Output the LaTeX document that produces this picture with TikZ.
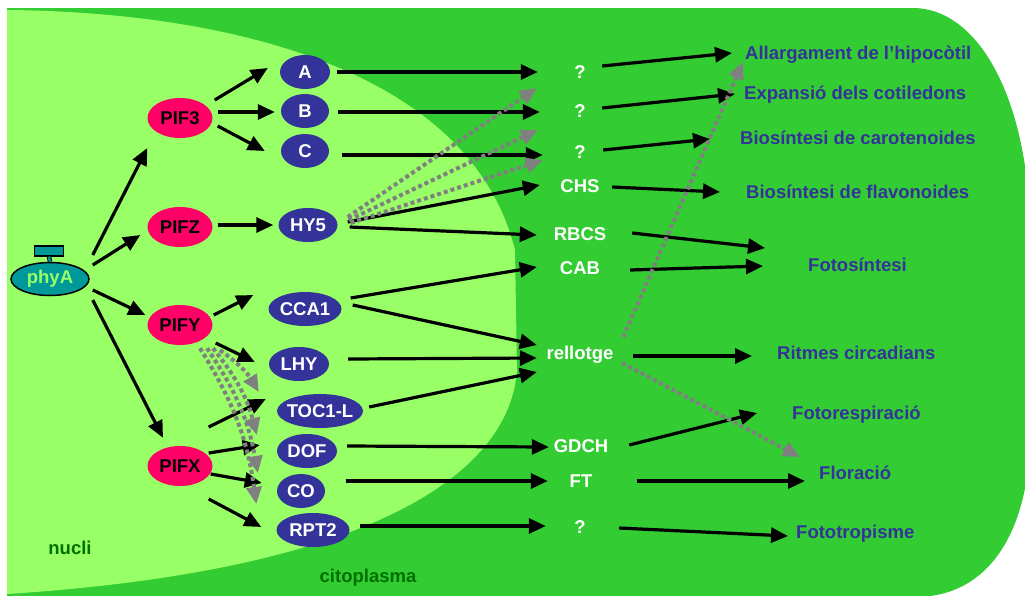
\documentclass[tikz,border=0pt]{standalone}
\usepackage{fontspec}
\setmainfont{Liberation Sans}
\usetikzlibrary{shapes.geometric,arrows.meta}
\definecolor{cyto}{RGB}{51,204,51}
\definecolor{nuc}{RGB}{153,255,102}
\definecolor{pif}{RGB}{255,0,102}
\definecolor{gene}{RGB}{51,51,153}
\definecolor{phyteal}{RGB}{0,153,153}
\definecolor{dkgreen}{RGB}{0,112,0}
\definecolor{dots}{RGB}{128,128,128}

\begin{document}
\begin{tikzpicture}[x=1pt,y=-1pt,
  font=\fontsize{18.5}{20}\selectfont\bfseries,
  pifnode/.style={ellipse,fill=pif,minimum width=65pt,minimum height=40pt,inner sep=0pt,text height=13pt,text depth=0pt},
  genenode/.style={ellipse,fill=gene,text=white,minimum height=34pt,inner sep=0pt,inner xsep=-3pt,text height=13pt,text depth=0pt},
  target/.style={text=white,minimum width=90pt,inner sep=0pt,text height=13pt,text depth=0pt},
  effect/.style={text=gene,anchor=west,inner sep=0pt,text height=13pt,text depth=0pt},
  arr/.style={-{Triangle[length=17pt,width=15pt]},line width=3.2pt},
  dotarr/.style={-{Triangle[length=17pt,width=15pt]},draw=dots,line width=4pt,dash pattern=on 4pt off 3pt}]
  \useasboundingbox (0,0) rectangle (1025,595);
  \fill[cyto] (7,8) -- (913,8) .. controls (975,8) and (1025,90) .. (1030,220) -- (1030,440)
    .. controls (1028,530) and (990,597) .. (915,597) -- (7,597) -- cycle;
  \fill[nuc] (7,10) .. controls (230,12) and (470,70) .. (515,250) -- (517,370)
    .. controls (510,470) and (380,570) .. (7,594) -- cycle;
  \node[text=dkgreen] (nucli) at (70,548) {nucli};
  \node[text=dkgreen] (cito) at (368,578) {citoplasma};

  \node[ellipse,draw,line width=1.5pt,fill=phyteal,text=nuc,minimum width=78pt,minimum height=33pt,inner sep=0pt] (phya) at (50,279) {phyA};
  \node[draw,line width=1.2pt,fill=phyteal,minimum width=29pt,minimum height=10pt,inner sep=0pt] (phyacap) at (49,251) {};
  \draw[line width=1pt,double=phyteal,double distance=2.5pt] (phyacap.south) -- (phya.north);

  \foreach \n/\y/\t in {pif3/118/PIF3,pifz/227/PIFZ,pify/325/PIFY,pifx/466/PIFX}
    \node[pifnode] (\n) at (180,\y) {\t};
  \foreach \n/\x/\y/\w/\t in {a/305/72/50/A,b/305/111/48/B,c/305/151/48/C,hy5/308/225/59/HY5,
    cca1/305/309/73/CCA1,lhy/299/364/60/LHY,toc/320/411/86/TOC1-L,dof/307/451/60/DOF,
    co/301/491/48/CO,rpt2/313/530/73/RPT2}
    \node[genenode,minimum width=\w pt] (\n) at (\x,\y) {\t};
  \foreach \n/\x/\y/\t in {q1/580/72/?,q2/580/111/?,q3/580/152/?,chs/580/186/CHS,rbcs/580/234/RBCS,
    cab/580/268/CAB,rell/580/353/rellotge,gdch/581/446/GDCH,ft/581/481/FT,q4/580/527/?}
    \node[target] (\n) at (\x,\y) {\t};
  \foreach \n/\x/\y/\t in {allarg/745/53/Allargament de l’hipocòtil,expan/744/93/Expansió dels cotiledons,
    carot/740/138/Biosíntesi de carotenoides,flavon/746/192/Biosíntesi de flavonoides,
    fotos/808/265/Fotosíntesi,ritmes/777/353/Ritmes circadians,fotoresp/792/413/Fotorespiració,
    flor/819/473/Floració,fotot/796/532/Fototropisme}
    \node[effect] (\n) at (\x,\y) {\t};

  \foreach \s/\sx/\sy/\t/\tx/\ty in {phya.east/3/-24/pif3.west/0/30,phya.east/3/-14/pifz.west/-7/8,
    phya.east/3/11/pify.west/-2/-10,phya.east/3/21/pifx.north/-17/-8,
    pif3.east/2/-18/a.west/-12/-4,pif3.east/5/-6/b.west/-6/1,pif3.east/5/8/c.west/-16/0,
    pifz.east/5/-2/hy5.west/-5/0,pify.east/1/-10/cca1.west/-15/-14,pify.east/3/18/lhy.west/-14/-2,
    pifx.east/-4/-39/toc.west/-11/-12,pifx.east/-4/-13/dof.west/-17/-6,
    pifx.east/-2/8/co.west/-15/-8,pifx.east/-4/33/rpt2.west/-15/-3,
    a.east/7/0/q1.west/3/0,b.east/9/1/q2.west/5/1,c.east/13/4/q3.west/8/3,
    hy5.east/10/-3/chs.west/5/-1,hy5.east/12/2/rbcs.west/2/1,
    cca1.east/9/-11/cab.west/2/-1,cca1.east/11/-4/rell.west/2/-8,
    lhy.east/19/-5/rell.west/2/5,toc.east/6/-4/rell.west/2/19,
    dof.east/10/-5/gdch.west/13/1,co.east/21/-10/ft.west/12/0,rpt2.east/10/-4/q4.west/11/-1,
    q1.east/-23/-6/allarg.west/-13/0,q2.east/-23/-3/expan.west/-9/1,q3.east/-22/-2/carot.west/-30/1,
    chs.east/-13/1/flavon.west/-26/0,rbcs.east/7/-1/fotos.west/-43/-17,cab.east/5/2/fotos.west/-45/1,
    rell.east/8/3/ritmes.west/-25/3,gdch.east/3/-1/fotoresp.west/-35/0,
    ft.east/11/0/flor.west/-14/8,q4.east/-6/1/fotot.west/-8/4}
    \draw[arr] ([shift={(\sx,\sy)}]\s) -- ([shift={(\tx,\ty)}]\t);

  \foreach \s/\sx/\sy/\t/\tx/\ty in {hy5.east/10/-8/q1.west/2/16,hy5.east/11/-5/q2.west/3/19,
    hy5.east/13/-2/q3.west/8/8,rell.east/-2/-16/allarg.west/-2/9,rell.east/-3/10/flor.west/-19/-16}
    \draw[dotarr] ([shift={(\sx,\sy)}]\s) -- ([shift={(\tx,\ty)}]\t);
  \foreach \s/\sx/\sy/\t/\tx/\ty in {pify.south/40/5/toc.west/-18/-19,pify.south/33/3/dof.west/-20/-16,
    pify.south/27/3/co.west/-19/-18,pify.south/20/3/rpt2.west/-20/-26}
    \draw[dotarr] ([shift={(\sx,\sy)}]\s) to[bend left=12] ([shift={(\tx,\ty)}]\t);
\end{tikzpicture}
\end{document}
